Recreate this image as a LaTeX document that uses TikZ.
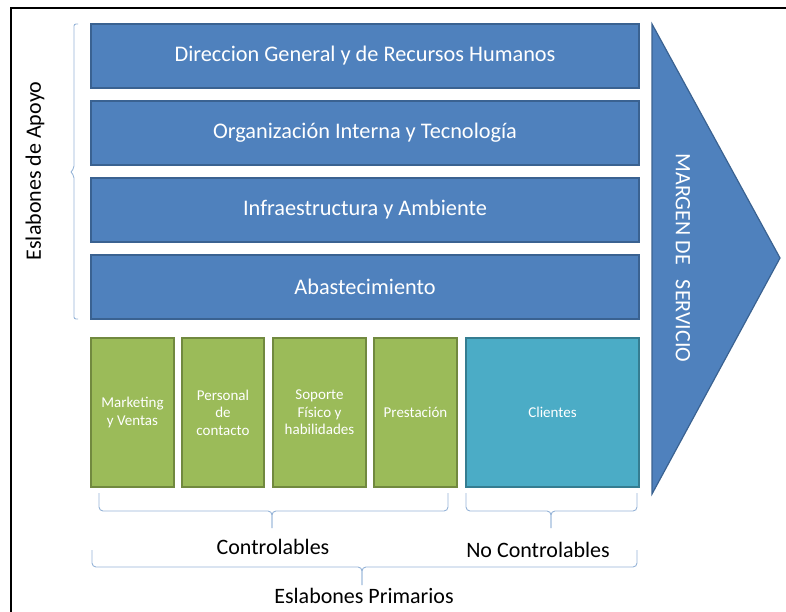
\documentclass[tikz,border=0pt]{standalone}
\usepackage{fontspec}
\setmainfont{Carlito}

\definecolor{apoyo}{HTML}{4F81BD}
\definecolor{apoyoborde}{HTML}{3A6291}
\definecolor{primario}{HTML}{9BBB59}
\definecolor{primarioborde}{HTML}{71893F}
\definecolor{cliente}{HTML}{4BACC6}
\definecolor{clienteborde}{HTML}{357D91}
\definecolor{llavecol}{HTML}{95B3D7}

\begin{document}
\begin{tikzpicture}[x=1pt,y=-1pt,
    apoyobox/.style={draw=apoyoborde, fill=apoyo, line width=1.2pt, minimum width=548pt, minimum height=64pt, text=white, font=\fontsize{22.3}{26}\selectfont},
    primbox/.style={draw=primarioborde, fill=primario, line width=1.2pt, minimum height=149pt, text=white, align=center, font=\fontsize{15}{17.5}\selectfont},
    llave/.style={draw=llavecol, line width=0.9pt, rounded corners=4pt},
    etiqueta/.style={font=\fontsize{22}{26}\selectfont}]
    \useasboundingbox (0,0) rectangle (786,612);

    % Frame
    \draw[line width=2pt] (11,613) -- (11,8) -- (787,8);

    % Support links
    \node[apoyobox] (direccion) at (365,56) {Direccion General y de Recursos Humanos};
    \node[apoyobox] (organizacion) at (365,133) {Organización Interna y Tecnología};
    \node[apoyobox] (infra) at (365,210) {Infraestructura y Ambiente};
    \node[apoyobox] (abast) at (365,287) {Abastecimiento};

    % Brace for the support links
    \draw[llave, rounded corners=2pt] (78,24) -- (74,24) -- (74,168) -- (71,172);
    \draw[llave, rounded corners=2pt] (71,172) -- (74,176) -- (74,319) -- (78,319);
    \node[etiqueta, rotate=90] (apoyolbl) at (35,171) {Eslabones de Apoyo};

    % Primary links
    \node[primbox, minimum width=83pt] (marketing) at (132.5,412.5) {Marketing\\y Ventas};
    \node[primbox, minimum width=82pt] (personal) at (223,412.5) {Personal\\de\\contacto};
    \node[primbox, minimum width=93pt] (soporte) at (319.5,412.5) {Soporte\\Físico y\\habilidades};
    \node[primbox, minimum width=83pt] (prestacion) at (415.5,412.5) {Prestación};
    \node[primbox, draw=clienteborde, fill=cliente, minimum width=173pt] (clientes) at (552.5,412.5) {Clientes};

    % Margin arrow
    \draw[draw=apoyoborde, fill=apoyo, line width=1.2pt] (652,24) -- (780,258) -- (652,494) -- cycle;
    \node[etiqueta, rotate=-90, text=white] (margen) at (683,258) {MARGEN DE\hspace{10pt} SERVICIO};

    % Braces under the primary links
    \draw[llave] (99,493) -- (99,511) -- (272,511) -- (272,528);
    \draw[llave] (272,528) -- (272,511) -- (448,511) -- (448,493);
    \draw[llave] (466,493) -- (466,511) -- (551,511) -- (551,528);
    \draw[llave] (551,528) -- (551,511) -- (637,511) -- (637,493);
    \draw[llave] (92,550) -- (92,567) -- (362,567) -- (362,585);
    \draw[llave] (362,585) -- (362,567) -- (637,567) -- (637,550);

    \node[etiqueta] (controlables) at (273,547) {Controlables};
    \node[etiqueta] (nocontrolables) at (538,550) {No Controlables};
    \node[etiqueta] (primarios) at (364,596) {Eslabones Primarios};
\end{tikzpicture}
\end{document}
